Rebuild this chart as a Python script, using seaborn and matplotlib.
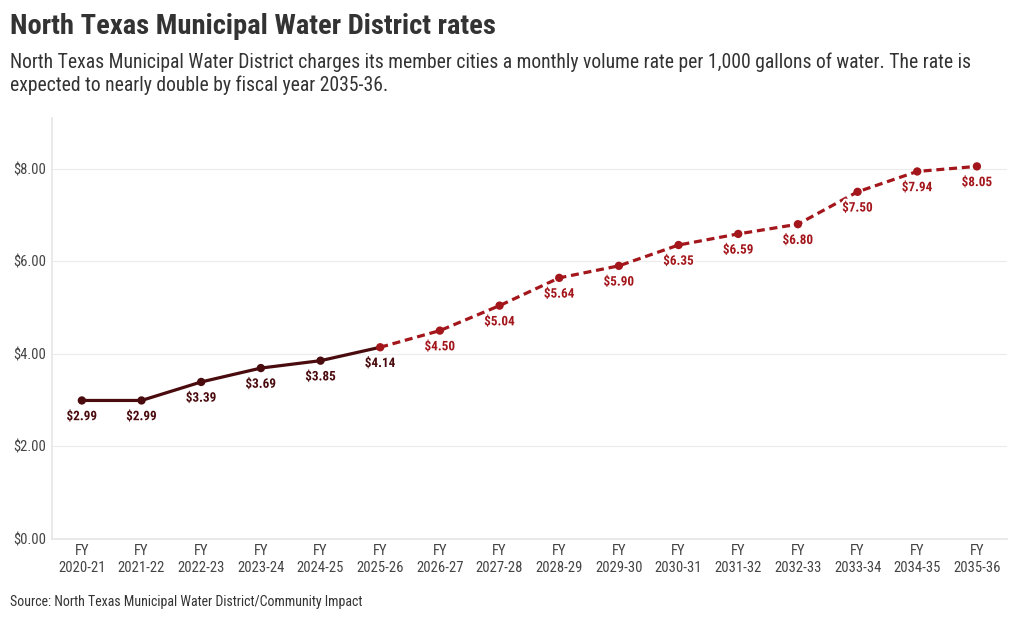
import pandas as pd
import seaborn as sns
import matplotlib.pyplot as plt
import matplotlib.patheffects as pe
from matplotlib.font_manager import fontManager

# data
years = ['2020-21', '2021-22', '2022-23', '2023-24', '2024-25', '2025-26', '2026-27', '2027-28',
         '2028-29', '2029-30', '2030-31', '2031-32', '2032-33', '2033-34', '2034-35', '2035-36']
rates = [2.99, 2.99, 3.39, 3.69, 3.85, 4.14, 4.50, 5.04, 5.64, 5.90, 6.35, 6.59, 6.80, 7.50, 7.94, 8.05]
n_actual = 6  # first six are current / past rates

dark = '#4a0b0e'
red = '#a3161b'
grey = '#333333'

sns.set_theme(style='white')
names = {f.name for f in fontManager.ttflist}
fam = 'Roboto Condensed' if 'Roboto Condensed' in names else 'Roboto'
plt.rcParams['font.family'] = [fam, 'DejaVu Sans']

df = pd.DataFrame({'x': range(len(years)), 'rate': rates})
past = df.iloc[:n_actual]
future = df.iloc[n_actual - 1:]

fig = plt.figure(figsize=(10.2, 6.2), dpi=100)
ax = fig.add_axes([0.051, 0.131, 0.936, 0.679])

sns.lineplot(data=past, x='x', y='rate', color=dark, lw=2.3, ax=ax)
sns.lineplot(data=future, x='x', y='rate', color=red, lw=2.3, ax=ax, linestyle=(0, (2.5, 1.5)))
sns.scatterplot(data=past.iloc[:-1], x='x', y='rate', color=dark, s=36, edgecolor='none', ax=ax, zorder=3)
sns.scatterplot(data=future, x='x', y='rate', color=red, s=36, edgecolor='none', ax=ax, zorder=3)

halo = [pe.withStroke(linewidth=3, foreground='white')]
for i, v in enumerate(rates):
    c = dark if i < n_actual else red
    ax.annotate(f'${v:.2f}', (i, v), xytext=(0, -7), textcoords='offset points',
                ha='center', va='top', fontsize=9.5, fontweight='bold', color=c,
                path_effects=halo, zorder=4)

ax.set_xlim(-0.5, 15.5)
ax.set_ylim(0, 9.1)
ax.set_yticks([0, 2, 4, 6, 8])
ax.set_yticklabels([f'${t:.2f}' for t in [0, 2, 4, 6, 8]])
ax.set_xticks(range(len(years)))
ax.set_xticklabels([f'FY\n{y}' for y in years])
ax.set_xlabel('')
ax.set_ylabel('')
ax.tick_params(axis='both', labelsize=10.5, colors='#444444', length=0, pad=4)
ax.grid(axis='y', color='#ebebeb', lw=0.8)
for s in ['top', 'right']:
    ax.spines[s].set_visible(False)
ax.spines['left'].set_color('#e6e6e6')
ax.spines['bottom'].set_color('#e6e6e6')

fig.text(0.0098, 0.958, 'North Texas Municipal Water District rates', fontsize=20.5,
         fontweight='bold', color=grey, va='center')
fig.text(0.0098, 0.881, 'North Texas Municipal Water District charges its member cities a monthly volume rate '
         'per 1,000 gallons of water. The rate is\nexpected to nearly double by fiscal year 2035-36.',
         fontsize=14.1, color=grey, va='center', linespacing=1.17)
fig.text(0.0098, 0.029, 'Source: North Texas Municipal Water District/Community Impact', fontsize=10,
         color=grey, va='center')

fig.savefig('out.png', dpi=100)
